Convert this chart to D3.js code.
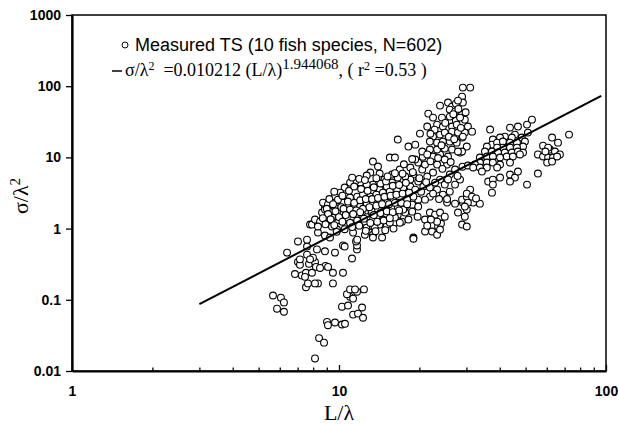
<!DOCTYPE html>
<html>
<head>
<meta charset="utf-8">
<script src="https://cdn.jsdelivr.net/npm/d3@7/dist/d3.min.js"></script>
<style>
body { margin: 0; background: #fff; }
svg text { white-space: pre; }
</style>
</head>
<body>
<div id="chart"></div>
<script>
// measured points, [L/lambda, sigma/lambda^2]
var leftLow = [[5.66,0.115],[6.06,0.107],[6.22,0.092],[5.86,0.075],[6.22,0.068]];

var lowArm = [[6.39,0.46],[7.02,0.66],[7.02,0.34],[7.14,0.31],[6.84,0.23],[7.26,0.22],[7.52,0.24],[7.52,0.15],
    [7.65,0.17],[7.59,0.43],[7.79,1.14],[7.72,0.32],[8.13,0.34],[8.20,0.29],[8.9,0.30],[9.1,0.29],[7.92,0.24],
    [8.34,0.17],[9.49,0.17],[8.13,0.17],[7.46,0.21],[7.99,0.39],[9.49,0.24],[10.35,0.24],[11.19,0.38],[11.68,0.51],
    [11.68,0.58],[11.58,0.66],[11.29,0.88],[10.35,0.58],[9.66,0.46],[8.86,0.48],[8.27,0.51],[7.59,0.56],[7.59,0.70],
    [8.34,0.88],[8.86,0.80],[9.25,0.75],[8.49,0.28],[7.14,0.37],[7.79,0.37]];

var veryLow = [[8.13,0.015],[8.42,0.029],[8.79,0.025],[9.02,0.049],[9.09,0.044],[9.66,0.048],[10.26,0.045],
    [10.53,0.046],[10.26,0.080],[10.81,0.083],[11.29,0.062],[11.78,0.064],[12.2,0.078],[12.3,0.056],[11.0,0.11],
    [11.29,0.104],[10.71,0.12],[11.68,0.13],[12.4,0.14],[11.0,0.14],[11.48,0.14]];

var mainCluster = [[13.4,8.75],[14.0,7.44],[13.1,6.13],[12.7,5.56],[14.2,5.93],[22.5,10.3],[23.9,11.0],[25.6,10.3],
    [28.4,11.7],[25.4,7.94],[23.3,7.94],[19.8,8.47],[18.5,7.21],[19.0,5.74],[20.5,6.75],[21.4,5.38],[22.5,6.13],
    [19.8,4.58],[18.5,4.88],[17.7,5.38],[16.5,4.43],[15.8,4.43],[15.1,3.89],[14.2,3.53],[13.4,4.15],[12.7,4.15],
    [12.0,4.43],[11.5,4.58],[11.0,4.43],[10.5,3.77],[10.1,3.20],[9.66,2.81],[9.41,2.32],[9.83,2.04],[10.35,2.32],
    [11.0,2.73],[11.7,2.81],[12.3,3.00],[13.1,2.81],[13.8,3.00],[14.6,3.20],[15.5,3.31],[16.5,3.53],[17.4,3.77],
    [18.5,3.89],[19.3,3.53],[20.7,3.89],[21.9,3.77],[23.3,3.53],[21.9,2.81],[21.0,2.55],[19.8,2.55],[19.0,2.81],
    [18.0,2.55],[16.9,2.73],[15.9,2.55],[15.1,2.55],[14.2,2.39],[13.4,2.32],[12.7,2.17],[12.0,2.04],[11.3,1.97],
    [10.7,1.73],[10.1,1.68],[9.66,1.47],[9.41,1.25],[9.91,1.21],[10.5,1.34],[11.2,1.47],[11.8,1.57],[12.5,1.68],
    [13.3,1.73],[14.0,1.85],[14.8,1.97],[15.8,1.97],[16.6,2.04],[17.7,2.04],[18.8,2.17],[19.8,2.04],[18.8,1.73],
    [17.7,1.68],[16.6,1.57],[15.8,1.47],[14.8,1.47],[14.0,1.43],[13.3,1.34],[12.5,1.25],[12.7,1.03],[13.4,1.07],
    [14.2,1.14],[15.1,1.14],[16.2,1.21],[17.2,1.25],[18.2,1.34],[19.7,1.47],[12.5,0.82],[13.4,0.82],[14.5,0.75],
    [11.7,0.70],[10.5,0.56],[7.92,1.14],[8.34,1.18],[8.13,1.34],[8.64,1.68],[8.86,2.04],[9.83,1.73],[10.1,1.07],
    [10.7,1.43],[12.2,1.57],[13.6,1.03],[13.4,0.75],[14.6,1.34],[15.5,1.21],[16.2,1.43],[16.9,1.21],[19.0,0.75],
    [17.4,1.85],[16.9,2.32],[15.1,2.32],[9.41,1.47],[8.71,2.32],[9.09,2.17],[9.91,2.55],[8.86,1.85],[9.25,1.73],
    [9.66,1.97],[9.02,1.47],[8.49,1.25],[8.34,1.07],[9.41,1.07],[9.83,0.97],[19.3,9.34],[21.0,7.94],[16.9,6.75],
    [15.8,5.74],[14.8,4.88],[16.6,5.21],[23.9,4.88],[24.9,4.15],[22.9,4.43],[26.0,5.74],[27.2,4.15],[26.0,3.31],
    [24.5,3.00],[27.2,6.75],[28.4,4.88],[24.9,9.34],[21.9,12.9],[19.3,15.1]];

// extra points where the core of the cloud overlaps heavily
var denseCore = [[9.2,2.6],[9.6,3.3],[10.3,2.9],[10.9,3.4],[11.4,3.9],[12.1,3.6],[12.8,3.4],[13.5,3.8],[14.3,4.3],
    [15.0,4.6],[15.9,4.0],[16.8,4.1],[17.8,4.4],[9.0,1.9],[9.5,2.2],[10.2,2.0],[10.8,2.4],[11.4,2.3],[12.0,2.5],
    [12.6,2.6],[13.3,2.6],[14.0,2.7],[14.8,2.8],[15.6,2.9],[16.4,3.0],[17.3,3.1],[18.3,3.2],[9.1,1.6],[9.7,1.75],
    [10.4,1.9],[11.0,1.85],[11.6,1.8],[12.3,1.9],[13.0,2.0],[13.8,2.1],[14.5,2.2],[15.4,2.2],[16.2,2.3],[17.1,2.3],
    [18.0,2.2],[8.7,1.4],[9.3,1.35],[10.0,1.45],[10.6,1.55],[11.3,1.6],[12.0,1.7],[12.7,1.45],[13.5,1.55],[14.3,1.65],
    [15.1,1.75],[15.9,1.7],[16.8,1.8],[8.9,1.15],[9.6,1.12],[10.3,1.25],[11.0,1.2],[11.7,1.3],[12.4,1.38],[13.1,1.2],
    [13.9,1.25],[14.7,1.3],[15.5,1.4],[9.8,0.9],[10.5,0.98],[11.2,1.05],[11.9,1.1],[12.6,0.93],[13.7,0.92],[14.9,0.95],
    [16.0,1.0],[11.2,5.2],[11.9,5.0],[12.5,4.8],[13.8,5.1],[15.2,5.4],[16.2,6.0],[17.3,5.9],[18.9,6.2],[20.0,5.1],
    [21.2,4.5],[20.3,3.3],[22.5,3.1],[23.7,2.6],[17.5,8.0],[18.8,9.5],[20.6,10.2],[22.0,8.8],[23.5,9.8],[26.2,8.6],
    [24.4,6.9],[25.6,4.9],[27.8,5.5],[29.0,7.4]];

var steepArm = [[29.1,95.5],[31.0,95.5],[28.9,71.3],[29.1,58.9],[28.9,39.9],[29.6,33.9],[30.4,27.1],[31.5,23.0],
    [29.6,22.3],[28.9,19.0],[30.1,14.2],[28.9,12.1],[23.9,53.4],[25.6,58.9],[26.5,51.7],[27.4,57.0],[27.9,62.8],
    [26.0,46.9],[27.2,44.0],[21.6,41.2],[22.5,36.2],[24.3,36.2],[26.0,37.4],[27.4,32.7],[28.4,36.2],[21.4,27.1],
    [20.1,21.6],[23.3,28.9],[24.5,27.1],[26.5,27.1],[27.6,28.9],[22.5,19.6],[23.9,20.9],[24.9,22.3],[26.5,23.0],
    [27.9,22.3],[29.1,19.6],[21.9,16.7],[23.3,16.1],[24.5,16.7],[26.0,16.7],[27.6,16.1],[23.3,12.9],[24.9,13.3],
    [26.5,12.9],[27.9,12.1],[16.6,17.8],[18.2,14.2],[20.5,12.1],[21.4,11.0],[15.5,9.96],[16.2,9.96],
    [22.8,24.5],[25.0,30.5],[26.8,40.5],[28.0,48.0],[25.8,19.5],[27.0,18.0],[24.2,14.8],[22.0,21.5],[28.6,26.0],
    [29.8,43.0]];

var midLow = [[21.0,1.34],[21.9,1.68],[22.9,1.57],[23.9,1.68],[24.9,1.47],[23.5,1.07],[22.3,0.91],[23.3,0.82],
    [21.0,0.91],[21.4,1.10],[24.1,1.18],[25.4,2.32],[27.2,2.24],[29.1,2.32],[30.1,1.85],[29.6,1.47],[28.9,1.14],
    [30.1,1.07],[31.8,2.32],[33.7,2.24],[27.9,1.68],[25.4,2.6],[28.9,2.55],[30.1,2.81],[23.3,1.25],[23.9,0.97],
    [19.0,0.72],[22.1,1.34]];

var rightLow = [[31.0,3.53],[30.1,3.1],[31.5,2.81],[32.6,2.65],[30.4,2.32],[29.6,2.04],[36.2,4.58],[37.7,4.88],
    [40.1,5.21],[37.7,4.15],[43.7,5.74],[45.6,5.21],[46.8,6.33],[43.7,4.58],[50.6,4.15],[55.6,5.93],[37.4,3.20]];

var rightCluster = [[36.8,24.6],[43.7,26.2],[46.8,27.1],[50.6,28.9],[52.8,33.9],[51.0,22.3],[48.4,19.0],[45.6,20.9],
    [44.4,19.0],[41.8,19.6],[40.1,19.0],[37.7,17.8],[37.4,15.1],[39.1,16.1],[41.1,16.7],[43.7,16.1],[46.4,16.1],
    [49.7,16.7],[48.9,14.2],[46.4,13.7],[43.7,13.7],[41.1,13.7],[39.1,13.7],[35.8,14.2],[35.2,12.1],[37.4,12.1],
    [39.4,11.7],[41.8,11.7],[44.4,11.7],[46.8,12.1],[48.9,11.7],[35.8,10.3],[37.7,10.3],[40.1,9.96],[42.5,10.3],
    [44.8,10.3],[33.7,9.96],[33.7,8.47],[35.8,8.47],[37.7,8.47],[40.1,7.94],[32.3,7.94],[30.4,7.69],[31.8,7.21],
    [33.7,7.21],[35.8,7.21],[34.3,6.33],[39.1,7.21],[43.7,8.47],[47.6,11.0]];

var farRight = [[62.8,19.0],[72.7,20.9],[66.1,16.1],[58.1,14.6],[61.7,12.9],[64.4,12.1],[67.2,11.0],[55.6,11.0],
    [58.1,10.3],[60.7,9.96],[63.3,9.96],[60.2,8.47],[62.8,8.75],[65.6,10.3],[60.7,13.7],[59.3,12.1]];

// fitted power law line, end points
var fitLine = [[3, 0.087], [96, 73]];

var xTicks = [1, 10, 100];
var xMinorTicks = [2, 3, 4, 5, 6, 7, 8, 9, 20, 30, 40, 50, 60, 70, 80, 90];
var yTicks = [0.01, 0.1, 1, 10, 100, 1000];
var yTickLabels = ["0.01", "0.1", "1", "10", "100", "1000"];

function drawChart() {
    var W = 618, H = 425;
    var plotLeft = 72, plotRight = 606, plotTop = 15, plotBottom = 371;

    var allPoints = [].concat(leftLow, lowArm, veryLow, mainCluster, denseCore, steepArm, midLow, rightLow, rightCluster, farRight);

    var svg = d3.select("#chart")
                .append("svg")
                .attr("width", W)
                .attr("height", H);

    var xScale = d3.scaleLog()
                .domain([1, 100])
                .range([plotLeft, plotRight]);

    var yScale = d3.scaleLog()
                .domain([0.01, 1000])
                .range([plotBottom, plotTop]);

    // frame
    svg.append("rect")
        .attr("x", plotLeft)
        .attr("y", plotTop)
        .attr("width", plotRight - plotLeft)
        .attr("height", plotBottom - plotTop)
        .attr("fill", "none")
        .attr("stroke", "#000")
        .attr("stroke-width", 1.5);

    // points
    svg.append("g")
        .selectAll("circle")
        .data(allPoints)
        .enter()
        .append("circle")
        .attr("cx", function(d) { return xScale(d[0]); })
        .attr("cy", function(d) { return yScale(d[1]); })
        .attr("r", 3.4)
        .attr("fill", "#fff")
        .attr("stroke", "#000")
        .attr("stroke-width", 1.1);

    // regression line
    var fit = d3.line()
                .x(function(d) { return xScale(d[0]); })
                .y(function(d) { return yScale(d[1]); });

    svg.append("path")
        .datum(fitLine)
        .attr("d", fit)
        .attr("fill", "none")
        .attr("stroke", "#000")
        .attr("stroke-width", 2);

    // axes
    var xAxis = d3.axisBottom(xScale)
                .tickValues(xTicks)
                .tickFormat(d3.format("d"))
                .tickSizeInner(-6)
                .tickSizeOuter(0)
                .tickPadding(15);

    svg.append("g")
        .attr("transform", "translate(0," + plotBottom + ")")
        .call(xAxis);

    svg.append("g")
        .attr("transform", "translate(0," + plotBottom + ")")
        .call(d3.axisBottom(xScale).tickValues(xMinorTicks).tickFormat("").tickSizeInner(-3.5).tickSizeOuter(0))
        .select(".domain").remove();

    var yAxis = d3.axisLeft(yScale)
                .tickValues(yTicks)
                .tickFormat(function(d, i) { return yTickLabels[i]; })
                .tickSizeInner(6)
                .tickSizeOuter(0)
                .tickPadding(5);

    svg.append("g")
        .attr("transform", "translate(" + plotLeft + ",0)")
        .call(yAxis);

    svg.selectAll(".domain").attr("stroke-width", 2.2);
    svg.selectAll(".tick line").attr("stroke-width", 1.3);
    svg.selectAll(".tick text")
        .attr("font-family", "'Liberation Sans', Arial, sans-serif")
        .attr("font-weight", "bold")
        .attr("font-size", 14)
        .attr("fill", "#000");

    // axis titles
    svg.append("text")
        .attr("x", 339)
        .attr("y", 420)
        .attr("text-anchor", "middle")
        .attr("font-family", "'Liberation Serif', 'Times New Roman', serif")
        .attr("font-size", 22)
        .text("L/λ");

    var yt = svg.append("text")
        .attr("transform", "translate(28,196) rotate(-90)")
        .attr("text-anchor", "middle")
        .attr("font-family", "'Liberation Serif', 'Times New Roman', serif")
        .attr("font-size", 22);
    yt.append("tspan").text("σ/λ");
    yt.append("tspan").attr("dy", -8).attr("font-size", 15).text("2");

    // legend
    svg.append("circle")
        .attr("cx", 125)
        .attr("cy", 45)
        .attr("r", 3)
        .attr("fill", "#fff")
        .attr("stroke", "#000")
        .attr("stroke-width", 1);

    svg.append("text")
        .attr("x", 135)
        .attr("y", 51)
        .attr("font-family", "'Liberation Sans', Arial, sans-serif")
        .attr("font-size", 18)
        .text("Measured TS (10 fish species, N=602)");

    svg.append("line")
        .attr("x1", 112).attr("x2", 122)
        .attr("y1", 71).attr("y2", 71)
        .attr("stroke", "#000")
        .attr("stroke-width", 1.5);

    var eq = svg.append("text")
        .attr("x", 125)
        .attr("y", 76)
        .attr("font-family", "'Liberation Serif', 'Times New Roman', serif")
        .attr("font-size", 18);
    eq.append("tspan").text("σ/λ");
    eq.append("tspan").attr("dy", -6).attr("font-size", 12).text("2");
    eq.append("tspan").attr("dy", 6).text("  =0.010212 (L/λ)");
    eq.append("tspan").attr("dy", -7).attr("font-size", 15).text("1.944068");
    eq.append("tspan").attr("dy", 7).text(", ( r");
    eq.append("tspan").attr("dy", -6).attr("font-size", 12).text("2");
    eq.append("tspan").attr("dy", 6).text(" =0.53 )");
}

drawChart();
</script>
</body>
</html>
